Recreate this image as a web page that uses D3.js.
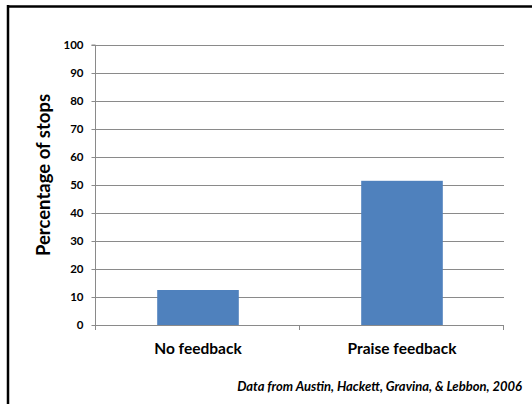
<!DOCTYPE html>
<html>
<head>
<meta charset="utf-8">
<script src="https://cdn.jsdelivr.net/npm/d3@7"></script>
<style>
  html, body { margin: 0; padding: 0; background: #fff; }
  svg { display: block; }
  text { font-family: Lato, "Open Sans", sans-serif; font-weight: 700; fill: #000; }
</style>
</head>
<body>
<svg id="chart" width="532" height="404"></svg>
<script>
// Percentage of stops by feedback condition
const categories = ["No feedback", "Praise feedback"];
const stopPercent = [12.5, 51.5];
const yTicks = [0, 10, 20, 30, 40, 50, 60, 70, 80, 90, 100];
const yTitle = "Percentage of stops";
const sourceNote = "Data from Austin, Hackett, Gravina, & Lebbon, 2006";

const svg = d3.select("#chart");
const W = 532, H = 404;
const plot = { left: 96, right: 504, top: 45, bottom: 325 };

// slide frame: top and left rules only
svg.append("line").attr("x1", 7).attr("x2", W).attr("y1", 6.5).attr("y2", 6.5)
  .attr("stroke", "#000").attr("stroke-width", 2.5);
svg.append("line").attr("x1", 8).attr("x2", 8).attr("y1", 5).attr("y2", H)
  .attr("stroke", "#000").attr("stroke-width", 2.5);

const x = d3.scaleBand().domain(categories).range([plot.left, plot.right])
  .paddingInner(0.6).paddingOuter(0.3);
const y = d3.scaleLinear().domain([0, 100]).range([plot.bottom, plot.top]);

// horizontal gridlines
svg.append("g").selectAll("line").data(yTicks.filter(d => d > 0)).join("line")
  .attr("x1", plot.left).attr("x2", plot.right)
  .attr("y1", d => Math.round(y(d)) + 0.5).attr("y2", d => Math.round(y(d)) + 0.5)
  .attr("stroke", "#8a8a8a").attr("stroke-width", 1);

// bars
svg.append("g").selectAll("rect").data(categories).join("rect")
  .attr("x", d => x(d))
  .attr("width", x.bandwidth())
  .attr("y", (d, i) => y(stopPercent[i]))
  .attr("height", (d, i) => y(0) - y(stopPercent[i]))
  .attr("fill", "#4f81bd");

// y axis
const yAxis = d3.axisLeft(y).tickValues(yTicks).tickSize(4).tickPadding(8);
const gy = svg.append("g").attr("transform", `translate(${plot.left - 0.5},0)`).call(yAxis);
gy.select(".domain").attr("stroke", "#8a8a8a").attr("d", `M-4,${plot.top}H0V${plot.bottom + 4}`);
gy.selectAll(".tick line").attr("stroke", "#8a8a8a");
gy.selectAll(".tick").attr("transform", d => `translate(0,${Math.round(y(d)) + 0.5})`);
gy.selectAll(".tick text").style("font-size", "11.5px").style("font-weight", 700)
  .style("font-family", "Lato, sans-serif").attr("fill", "#000");

// x axis: baseline with ticks at category boundaries
const gx = svg.append("g");
gx.append("line").attr("x1", plot.left - 4).attr("x2", plot.right)
  .attr("y1", plot.bottom + 0.5).attr("y2", plot.bottom + 0.5).attr("stroke", "#8a8a8a");
const step = (plot.right - plot.left) / categories.length;
gx.selectAll("line.sep").data(d3.range(categories.length + 1)).join("line")
  .attr("class", "sep")
  .attr("x1", i => Math.round(plot.left + i * step) - 0.5)
  .attr("x2", i => Math.round(plot.left + i * step) - 0.5)
  .attr("y1", plot.bottom).attr("y2", plot.bottom + 5)
  .attr("stroke", "#8a8a8a");

// category labels
svg.append("g").selectAll("text").data(categories).join("text")
  .attr("x", d => x(d) + x.bandwidth() / 2)
  .attr("y", 354)
  .attr("text-anchor", "middle")
  .style("font-size", "15.5px")
  .text(d => d);

// y axis title
svg.append("text")
  .attr("transform", "translate(50,175) rotate(-90)")
  .attr("text-anchor", "middle")
  .style("font-size", "18.5px")
  .text(yTitle);

// source note
svg.append("text")
  .attr("x", 522).attr("y", 391)
  .attr("text-anchor", "end")
  .style("font-size", "13px").style("font-style", "italic")
  .text(sourceNote);
</script>
</body>
</html>
